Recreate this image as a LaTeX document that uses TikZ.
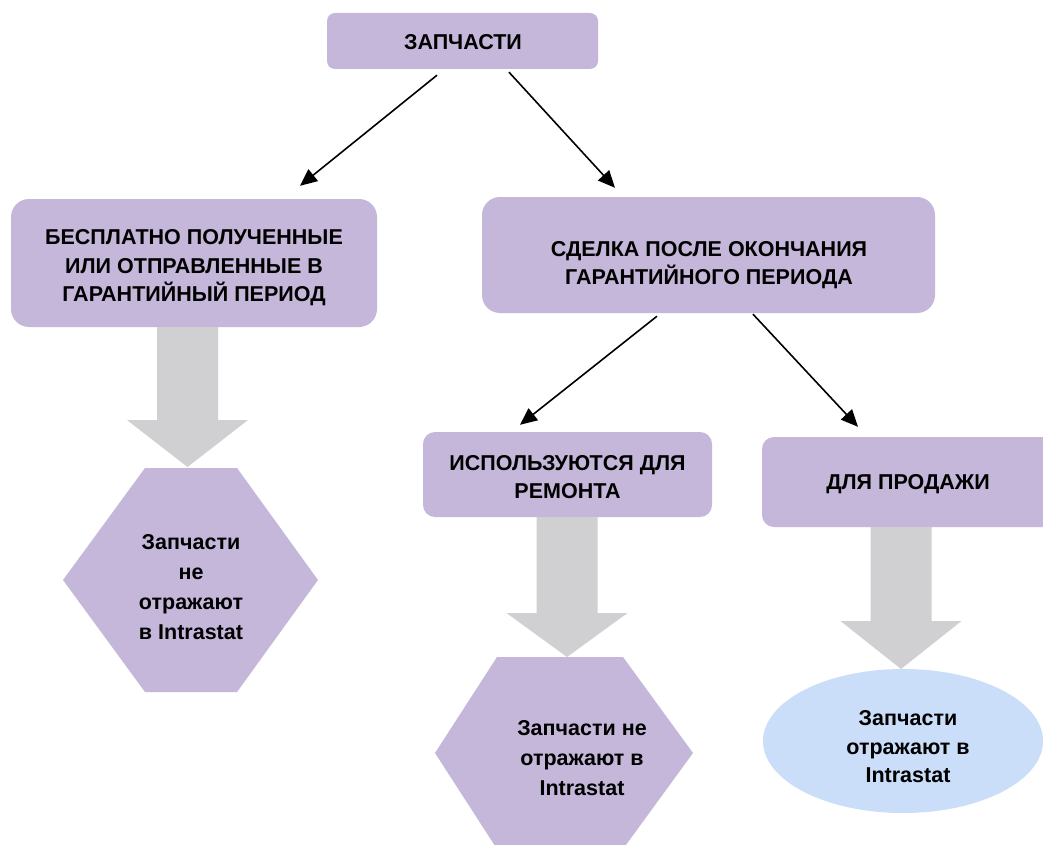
\documentclass[tikz,border=0pt]{standalone}
\usepackage{fontspec}
\setmainfont{Liberation Sans}
\usetikzlibrary{arrows.meta,shapes.geometric,calc}
\definecolor{lav}{HTML}{C5B7DA}
\definecolor{lblue}{HTML}{CADEF9}
\definecolor{gbar}{HTML}{D0CFD1}
\newcommand\blockarrow[4]{\fill[gbar] (#1-30.5,#2) -- (#1+30.5,#2) -- (#1+30.5,#3) -- (#1+60.5,#3) -- (#1,#4) -- (#1-60.5,#3) -- (#1-30.5,#3) -- cycle;}
\begin{document}
\begin{tikzpicture}[x=1pt,y=-1pt,
  boxshape/.style={fill=lav, inner sep=0pt},
  lbl/.style={align=center, inner sep=0pt, font=\fontsize{21.5}{28.5}\selectfont\bfseries},
  hlbl/.style={align=center, inner sep=0pt, font=\fontsize{21.5}{30}\selectfont\bfseries},
  conn/.style={-{Triangle[length=17pt,width=15pt]}, line width=1.6pt}]
\clip (0,0) rectangle (1043,845);
\fill[white] (0,0) rectangle (1043,845);
% boxes
\node[boxshape, rounded corners=8pt, minimum width=271pt, minimum height=56pt] (top) at (462.5,41) {};
\node[lbl] (topT) at (463,42.5) {ЗАПЧАСТИ};
\node[boxshape, rounded corners=18pt, minimum width=366pt, minimum height=128pt] (free) at (194,263) {};
\node[lbl] (freeT) at (194,268) {БЕСПЛАТНО ПОЛУЧЕННЫЕ\\ИЛИ ОТПРАВЛЕННЫЕ В\\ГАРАНТИЙНЫЙ ПЕРИОД};
\node[boxshape, rounded corners=18pt, minimum width=453pt, minimum height=116pt] (deal) at (708.5,255) {};
\node[lbl] (dealT) at (709,265) {СДЕЛКА ПОСЛЕ ОКОНЧАНИЯ\\ГАРАНТИЙНОГО ПЕРИОДА};
\node[boxshape, rounded corners=12pt, minimum width=289pt, minimum height=85pt] (rep) at (567.5,474.5) {};
\node[lbl] (repT) at (567.5,477) {ИСПОЛЬЗУЮТСЯ ДЛЯ\\РЕМОНТА};
\node[boxshape, rounded corners=12pt, minimum width=292pt, minimum height=90pt] (sale) at (908,482) {};
\node[lbl] (saleT) at (908,484) {ДЛЯ ПРОДАЖИ};
% thin arrows
\draw[conn] ($(top.south)+(-25.5,6)$) -- ($(free.north)+(106,-13)$);
\draw[conn] ($(top.south)+(46.5,3)$) -- ($(deal.north)+(-93.5,-9)$);
\draw[conn] ($(deal.south)+(-51.5,3)$) -- ($(rep.north)+(-47.5,-7)$);
\draw[conn] ($(deal.south)+(44.5,1)$) -- ($(sale.north)+(-50,-10)$);
% block arrows
\blockarrow{187.5}{327}{420}{467}
\blockarrow{567}{517}{613}{657}
\blockarrow{901}{527}{621}{669}
% results
\fill[lav] (145,468) -- (237,468) -- (318,580) -- (237,692) -- (145,692) -- (63,580) -- cycle;
\node[hlbl] (hexL) at (191,587) {Запчасти\\не\\отражают\\в Intrastat};
\fill[lav] (497,657) -- (623,657) -- (693,753) -- (623,849) -- (497,849) -- (435,753) -- cycle;
\node[hlbl] (hexM) at (582,758) {Запчасти не\\отражают в\\Intrastat};
\node[ellipse, fill=lblue, minimum width=280pt, minimum height=144pt, inner sep=0pt] (ell) at (903,741) {};
\node[lbl] (ellT) at (908,747) {Запчасти\\отражают в\\Intrastat};
\end{tikzpicture}
\end{document}
